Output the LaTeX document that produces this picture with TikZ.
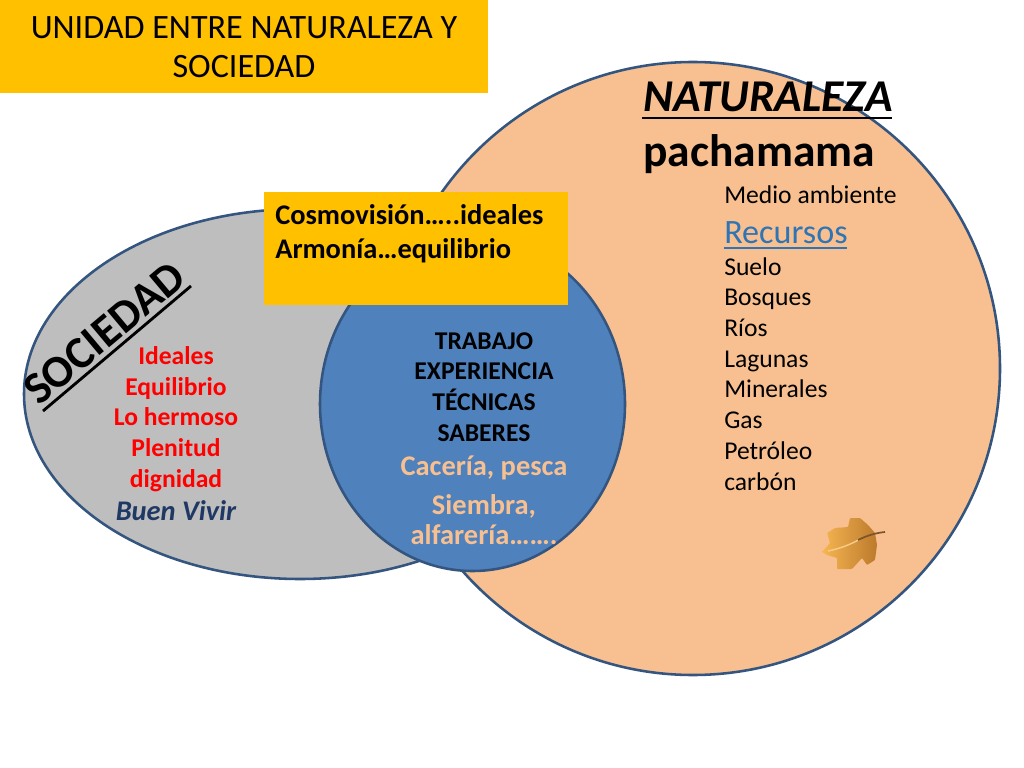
\documentclass[tikz,border=0pt]{standalone}
\usepackage{fontspec}
\setmainfont{Carlito}
\usepackage{tikz}
\definecolor{rim}{HTML}{33557F}
\definecolor{peach}{HTML}{F8C090}
\definecolor{greyfill}{HTML}{BEBEBE}
\definecolor{bluefill}{HTML}{4F81BD}
\definecolor{gold}{HTML}{FFC000}
\definecolor{navy}{HTML}{1F3864}
\definecolor{linkblue}{HTML}{2E75B6}
\definecolor{leaflight}{HTML}{F6B652}
\definecolor{leafdark}{HTML}{BC7A2C}
\tikzset{
  blob/.style={draw=rim,line width=1.8pt},
  plain/.style={inner sep=0pt,align=left,anchor=north west},
  mid/.style={inner sep=0pt,align=center,anchor=center},
}
\begin{document}
\begin{tikzpicture}[x=0.703125pt,y=-0.703125pt]
\useasboundingbox (0,0) rectangle (1024,768);
% big shapes
\fill[white] (0,0) rectangle (1024,768);
\draw[blob,fill=peach] (693,368.5) ellipse (307 and 306.5);
\draw[blob,fill=greyfill] (300,394) ellipse (276 and 185);
\draw[blob,fill=bluefill] (472.5,404) ellipse (152.5 and 167);
\fill[gold] (264,192) rectangle (568,305);
\fill[gold] (0,0) rectangle (488,93);
% title
\node[mid,font=\fontsize{24}{27.5}\selectfont] (title) at (244,47) {UNIDAD ENTRE NATURALEZA Y\\SOCIEDAD};
% naturaleza side
\node[plain,font=\fontsize{32}{32}\selectfont\bfseries\itshape] (nat) at (643,82) {NATURALEZA};
\draw[line width=2pt] (642,118) -- (892,118);
\node[plain,font=\fontsize{32}{32}\selectfont\bfseries] (pacha) at (643,134) {pachamama};
\node[plain,font=\fontsize{18}{18}\selectfont] (medio) at (724,185) {Medio ambiente};
\node[plain,font=\fontsize{24}{24}\selectfont,text=linkblue] (recursos) at (724,221) {Recursos};
\draw[linkblue,line width=1.5pt] (724,248) -- (847,248);
\node[plain,font=\fontsize{18}{21.6}\selectfont] (lista) at (724,257) {Suelo\\Bosques\\Ríos\\Lagunas\\Minerales\\Gas\\Petróleo\\carbón};
% yellow box
\node[plain,font=\fontsize{20}{24}\selectfont\bfseries] (cosmo) at (275,204) {Cosmovisión…..ideales\\Armonía…equilibrio};
% blue circle
\node[mid,font=\fontsize{18}{21.6}\selectfont\bfseries] (trabajo) at (484,387) {TRABAJO\\EXPERIENCIA\\TÉCNICAS\\SABERES};
\node[mid,font=\fontsize{20}{21}\selectfont\bfseries,text=peach] (caceria) at (484,500.5) {Cacería, pesca\\[6.4pt]Siembra,\\alfarería…….};
% sociedad side
\node[mid,font=\fontsize{32}{32}\selectfont\bfseries,rotate=40] (soc) at (104.5,333) {SOCIEDAD};
\draw[line width=2pt] (43,411) -- (191,286);
\node[mid,font=\fontsize{18}{21.6}\selectfont\bfseries,text=red] (ideales) at (176,419) {Ideales\\Equilibrio\\Lo hermoso\\Plenitud\\dignidad};
\node[mid,font=\fontsize{20}{20}\selectfont\bfseries\itshape,text=navy] (buen) at (176,511) {Buen Vivir};
% leaf
\shade[rounded corners=0.6pt,left color=leaflight,right color=leafdark] (822,552) -- (830,543) -- (827,533) -- (835,528) -- (848,527) -- (850,518) -- (860,518) -- (868,525) -- (875,533) -- (877,545) -- (875,560) -- (867,565) -- (862,558) -- (852,569) -- (837,569) -- (837,558) -- (827,555) -- cycle;
\draw[leaflight!70!white,line width=1pt] (828,551) .. controls (838,549) and (850,545) .. (860,539);
\draw[black!35!brown,line width=1.2pt] (858,540) .. controls (866,536) and (875,533) .. (885,532);
\end{tikzpicture}
\end{document}
